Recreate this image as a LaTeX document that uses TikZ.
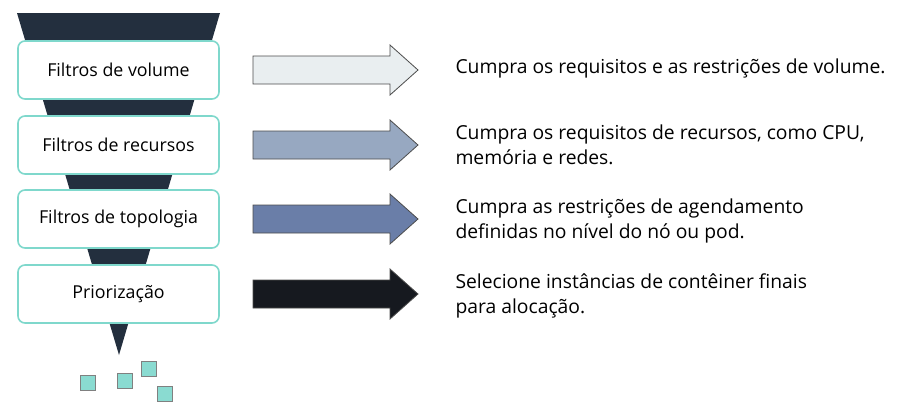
\documentclass[tikz,border=0pt]{standalone}
\usepackage{fontspec}
\setmainfont{Open Sans}
\definecolor{funnel}{HTML}{232F3E}
\definecolor{teal}{HTML}{7FD8CC}
\definecolor{sq}{HTML}{8ADBD1}
\definecolor{a1}{HTML}{E9EEF0}
\definecolor{a2}{HTML}{97A8C1}
\definecolor{a3}{HTML}{6A7EA8}
\definecolor{a4}{HTML}{16191F}
\begin{document}
\begin{tikzpicture}[x=1pt,y=-1pt,
  stage/.style={draw=teal,line width=1.6pt,fill=white,rounded corners=7pt,minimum width=201pt,minimum height=58pt,font=\fontsize{17.8}{20}\selectfont},
  arrbody/.style={draw=black!70,line width=0.8pt,line join=miter},
  desc/.style={anchor=west,align=left,font=\fontsize{19.3}{25.5}\selectfont},
  sqs/.style={draw=black!50,fill=sq,minimum size=15pt,inner sep=0pt,line width=0.6pt}]
\useasboundingbox (0,0) rectangle (913,416);
\fill[funnel] (17,13) -- (220,13) -- (119,355) -- cycle;
\node[stage] (s1) at (118.5,70) {Filtros de volume};
\node[stage] (s2) at (118.5,145) {Filtros de recursos};
\node[stage] (s3) at (118.5,219) {Filtros de topologia};
\node[stage] (s4) at (118.5,294) {Priorização};
\foreach \y/\c/\n in {70/a1/r1,145/a2/r2,219/a3/r3,294/a4/r4}{
  \coordinate (\n) at (253,\y);
  \draw[arrbody,fill=\c] (\n) ++(0,-14) -- ++(137,0) -- ++(0,-11) -- ++(28,25) -- ++(-28,25) -- ++(0,-11) -- ++(-137,0) -- cycle;
}
\node[desc] (d1) at (452,68) {Cumpra os requisitos e as restrições de volume.};
\node[desc] (d2) at (452,145) {Cumpra os requisitos de recursos, como CPU,\\memória e redes.};
\node[desc] (d3) at (452,221) {Cumpra as restrições de agendamento\\definidas no nível do nó ou pod.};
\node[desc] (d4) at (452,296) {Selecione instâncias de contêiner finais\\para alocação.};
\node[sqs] (q1) at (87.5,383) {};
\node[sqs] (q2) at (124.5,381) {};
\node[sqs] (q3) at (148.5,369) {};
\node[sqs] (q4) at (164.5,394) {};
\end{tikzpicture}
\end{document}
